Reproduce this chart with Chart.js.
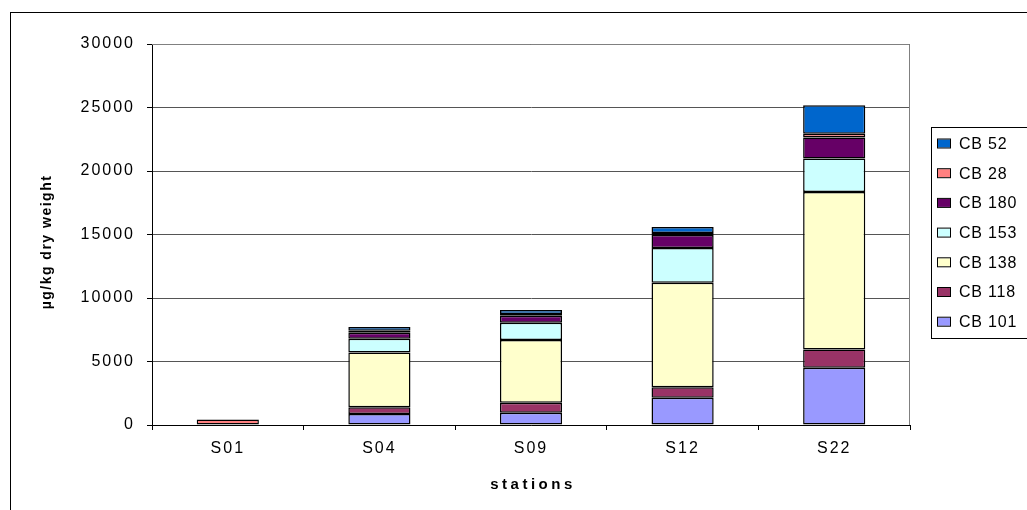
<!DOCTYPE html>
<html>
<head>
<meta charset="utf-8">
<script src="https://cdn.jsdelivr.net/npm/chart.js@4/dist/chart.umd.min.js"></script>
<style>
    html, body { margin: 0; padding: 0; background: #fff; overflow: hidden; }
    #wrap { position: relative; width: 1027px; height: 510px; }
    #frame { position: absolute; left: 10px; top: 12px; width: 1100px; height: 600px; border: 1px solid #000; box-sizing: border-box; }
    canvas { position: absolute; left: 0; top: 0; }
</style>
</head>
<body>
<div id="wrap">
    <div id="frame"></div>
    <canvas id="pcbChart" width="1027" height="510"></canvas>
</div>
<script>
const stations = ['S01', 'S04', 'S09', 'S12', 'S22'];
const cb101 = [0, 870, 970, 2150, 4500];
const cb118 = [0, 530, 790, 820, 1450];
const cb138 = [0, 4300, 4930, 8230, 12400];
const cb153 = [0, 1100, 1360, 2740, 2630];
const cb180 = [0, 470, 550, 1020, 1650];
const cb28 = [430, 150, 150, 150, 300];
const cb52 = [0, 300, 300, 480, 2250];
const yTicks = [0, 5000, 10000, 15000, 20000, 25000, 30000];

// bottom to top stacking order
const series = [
    { label: 'CB 101', data: cb101, color: '#9999FF' },
    { label: 'CB 118', data: cb118, color: '#993366' },
    { label: 'CB 138', data: cb138, color: '#FFFFCC' },
    { label: 'CB 153', data: cb153, color: '#CCFFFF' },
    { label: 'CB 180', data: cb180, color: '#660066' },
    { label: 'CB 28', data: cb28, color: '#FF8080' },
    { label: 'CB 52', data: cb52, color: '#0066CC' }
];

// plot frame, axis titles and the boxed legend
const extras = {
    id: 'extras',
    beforeDraw(chart) {
        chart.ctx.letterSpacing = '2px';
    },
    beforeDatasetsDraw(chart) {
        const { ctx, chartArea: a } = chart;
        ctx.save();
        ctx.strokeStyle = '#808080';
        ctx.lineWidth = 1;
        ctx.beginPath();
        ctx.moveTo(a.left, a.top + 0.5);
        ctx.lineTo(a.right - 0.5, a.top + 0.5);
        ctx.lineTo(a.right - 0.5, a.bottom);
        ctx.stroke();
        ctx.restore();
    },
    afterDraw(chart) {
        const { ctx, chartArea: a } = chart;
        ctx.save();
        ctx.fillStyle = '#000';

        // y title
        ctx.font = 'bold 14px "Liberation Sans", Arial, sans-serif';
        ctx.letterSpacing = '1.5px';
        ctx.textAlign = 'center';
        ctx.textBaseline = 'middle';
        ctx.save();
        ctx.translate(47, 242);
        ctx.rotate(-Math.PI / 2);
        ctx.fillText('µg/kg dry weight', 0, 0);
        ctx.restore();

        // x title
        ctx.font = 'bold 15px "Liberation Sans", Arial, sans-serif';
        ctx.letterSpacing = '3.5px';
        ctx.fillText('stations', (a.left + a.right) / 2 + 2, 485);

        // legend
        const lx = 931, ly = 127, lh = 211;
        ctx.strokeStyle = '#000';
        ctx.lineWidth = 1;
        ctx.strokeRect(lx + 0.5, ly + 0.5, 200, lh);
        ctx.font = '16px "Liberation Sans", Arial, sans-serif';
        ctx.letterSpacing = '0.8px';
        ctx.textAlign = 'left';
        const items = series.slice().reverse();
        items.forEach((s, i) => {
            const cy = 143.5 + i * 29.7;
            ctx.fillStyle = s.color;
            ctx.fillRect(937, cy - 4, 13, 8);
            ctx.strokeRect(937.5, cy - 4.5, 13, 9);
            ctx.fillStyle = '#000';
            ctx.fillText(s.label, 959, cy + 1);
        });
        ctx.restore();
    }
};

new Chart(document.getElementById('pcbChart'), {
    type: 'bar',
    data: {
        labels: stations,
        datasets: series.map(s => ({
            label: s.label,
            data: s.data,
            backgroundColor: s.color,
            borderColor: '#000',
            borderWidth: 1.5,
            borderSkipped: false,
            categoryPercentage: 1,
            barPercentage: 0.41
        }))
    },
    options: {
        responsive: false,
        animation: false,
        devicePixelRatio: 1,
        layout: { padding: { left: 0, right: 117, top: 44, bottom: 0 } },
        plugins: { legend: { display: false }, tooltip: { enabled: false } },
        scales: {
            x: {
                stacked: true,
                afterFit: s => { s.height = 85; },
                border: { color: '#000', width: 1 },
                grid: { offset: true, drawOnChartArea: false, drawTicks: true, tickLength: 5, color: '#000' },
                ticks: { color: '#000', padding: 9, font: { family: '"Liberation Sans", Arial, sans-serif', size: 16 } }
            },
            y: {
                stacked: true,
                min: 0,
                max: 30000,
                afterFit: s => { s.width = 152; },
                afterBuildTicks: s => { s.ticks = yTicks.map(v => ({ value: v })); },
                border: { color: '#000', width: 1 },
                grid: { color: '#555', lineWidth: 1, tickLength: 5, tickColor: '#000' },
                ticks: {
                    color: '#000',
                    padding: 12,
                    font: { family: '"Liberation Sans", Arial, sans-serif', size: 16 },
                    callback: v => String(v)
                }
            }
        }
    },
    plugins: [extras]
});
</script>
</body>
</html>
